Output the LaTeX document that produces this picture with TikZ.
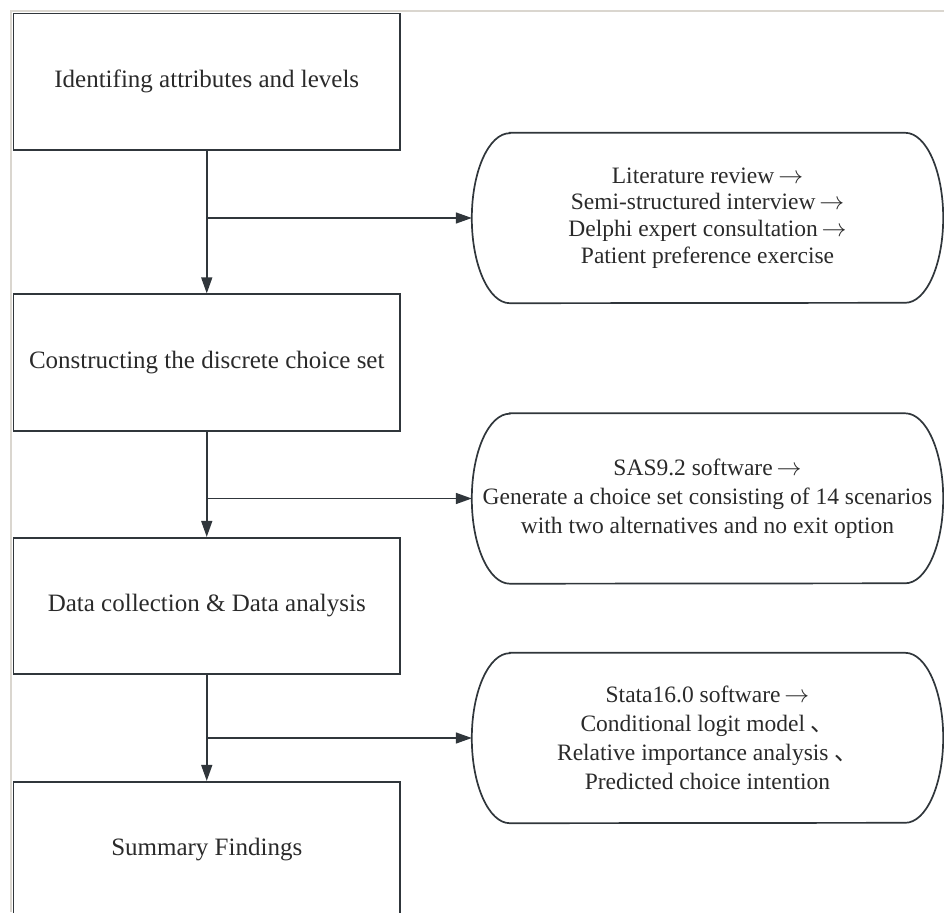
\documentclass[tikz,border=0pt]{standalone}
\usepackage{fontspec}
\setmainfont{Liberation Serif}
\newfontfamily\cjk{Noto Sans CJK SC}
\usetikzlibrary{arrows.meta}
\definecolor{ink}{HTML}{30363B}
\definecolor{txt}{HTML}{2A2A2A}
\definecolor{frame}{HTML}{DAD6CF}
\newcommand{\rarr}{\,$\rightarrow$}
\tikzset{
  line/.style={draw=ink, line width=1.7pt},
  arr/.style={draw=ink, line width=1.5pt, -{Triangle[length=16pt,width=11pt]}},
  mainbox/.style={line, rectangle, inner sep=0pt, minimum width=386.5pt, minimum height=136.5pt,
    text=txt, font=\fontsize{25}{30}\selectfont},
  sidebox/.style={rectangle, inner sep=0pt, minimum width=471pt, minimum height=170pt,
    text=txt, align=center},
}
\begin{document}
\begin{tikzpicture}[x=1pt,y=1pt]
\useasboundingbox (0,0) rectangle (944,-912);
% light frame
\draw[frame, line width=1.6pt] (11,-912) -- (11,-11) -- (944,-11);

% main boxes
\node[mainbox] (b1) at (206.75,-81.75) {Identifing attributes and levels};
\node[mainbox] (b2) at (206.75,-362.5) {Constructing the discrete choice set};
\node[mainbox] (b3) at (206.75,-606) {Data collection \& Data analysis};
\node[mainbox] (b4) at (206.75,-850) {Summary Findings};

% side boxes
\node[sidebox, font=\fontsize{23.5}{26.7}\selectfont] (sa) at (707.5,-218)
  {Literature review\rarr\\Semi-structured interview\rarr\\Delphi expert consultation\rarr\\Patient preference exercise};
\node[sidebox, font=\fontsize{23.5}{28.8}\selectfont] (sb) at (707.5,-498.5)
  {SAS9.2 software\rarr\\Generate a choice set consisting of 14 scenarios\\with two alternatives and no exit option};
\node[sidebox, font=\fontsize{23.5}{29}\selectfont] (sc) at (707.5,-738)
  {Stata16.0 software\rarr\\Conditional logit model {\cjk 、}\\Relative importance analysis {\cjk 、}\\Predicted choice intention};

\foreach \n in {sa,sb,sc}
  \draw[line] ([xshift=38pt]\n.north west) -- ([xshift=-38pt]\n.north east)
    arc[start angle=90, end angle=-90, x radius=38pt, y radius=85pt]
    -- ([xshift=38pt]\n.south west)
    arc[start angle=270, end angle=90, x radius=38pt, y radius=85pt] -- cycle;

% connectors
\draw[arr] (b1.south) -- (b2.north);
\draw[arr] (b2.south) -- (b3.north);
\draw[arr] (b3.south) -- (b4.north);
\coordinate (j1) at (b1.south |- sa.west);
\coordinate (j2) at (b2.south |- sb.west);
\coordinate (j3) at (b3.south |- sc.west);
\draw[arr] (j1) -- (sa.west);
\draw[arr] (j2) -- (sb.west);
\draw[arr] (j3) -- (sc.west);
\end{tikzpicture}
\end{document}
